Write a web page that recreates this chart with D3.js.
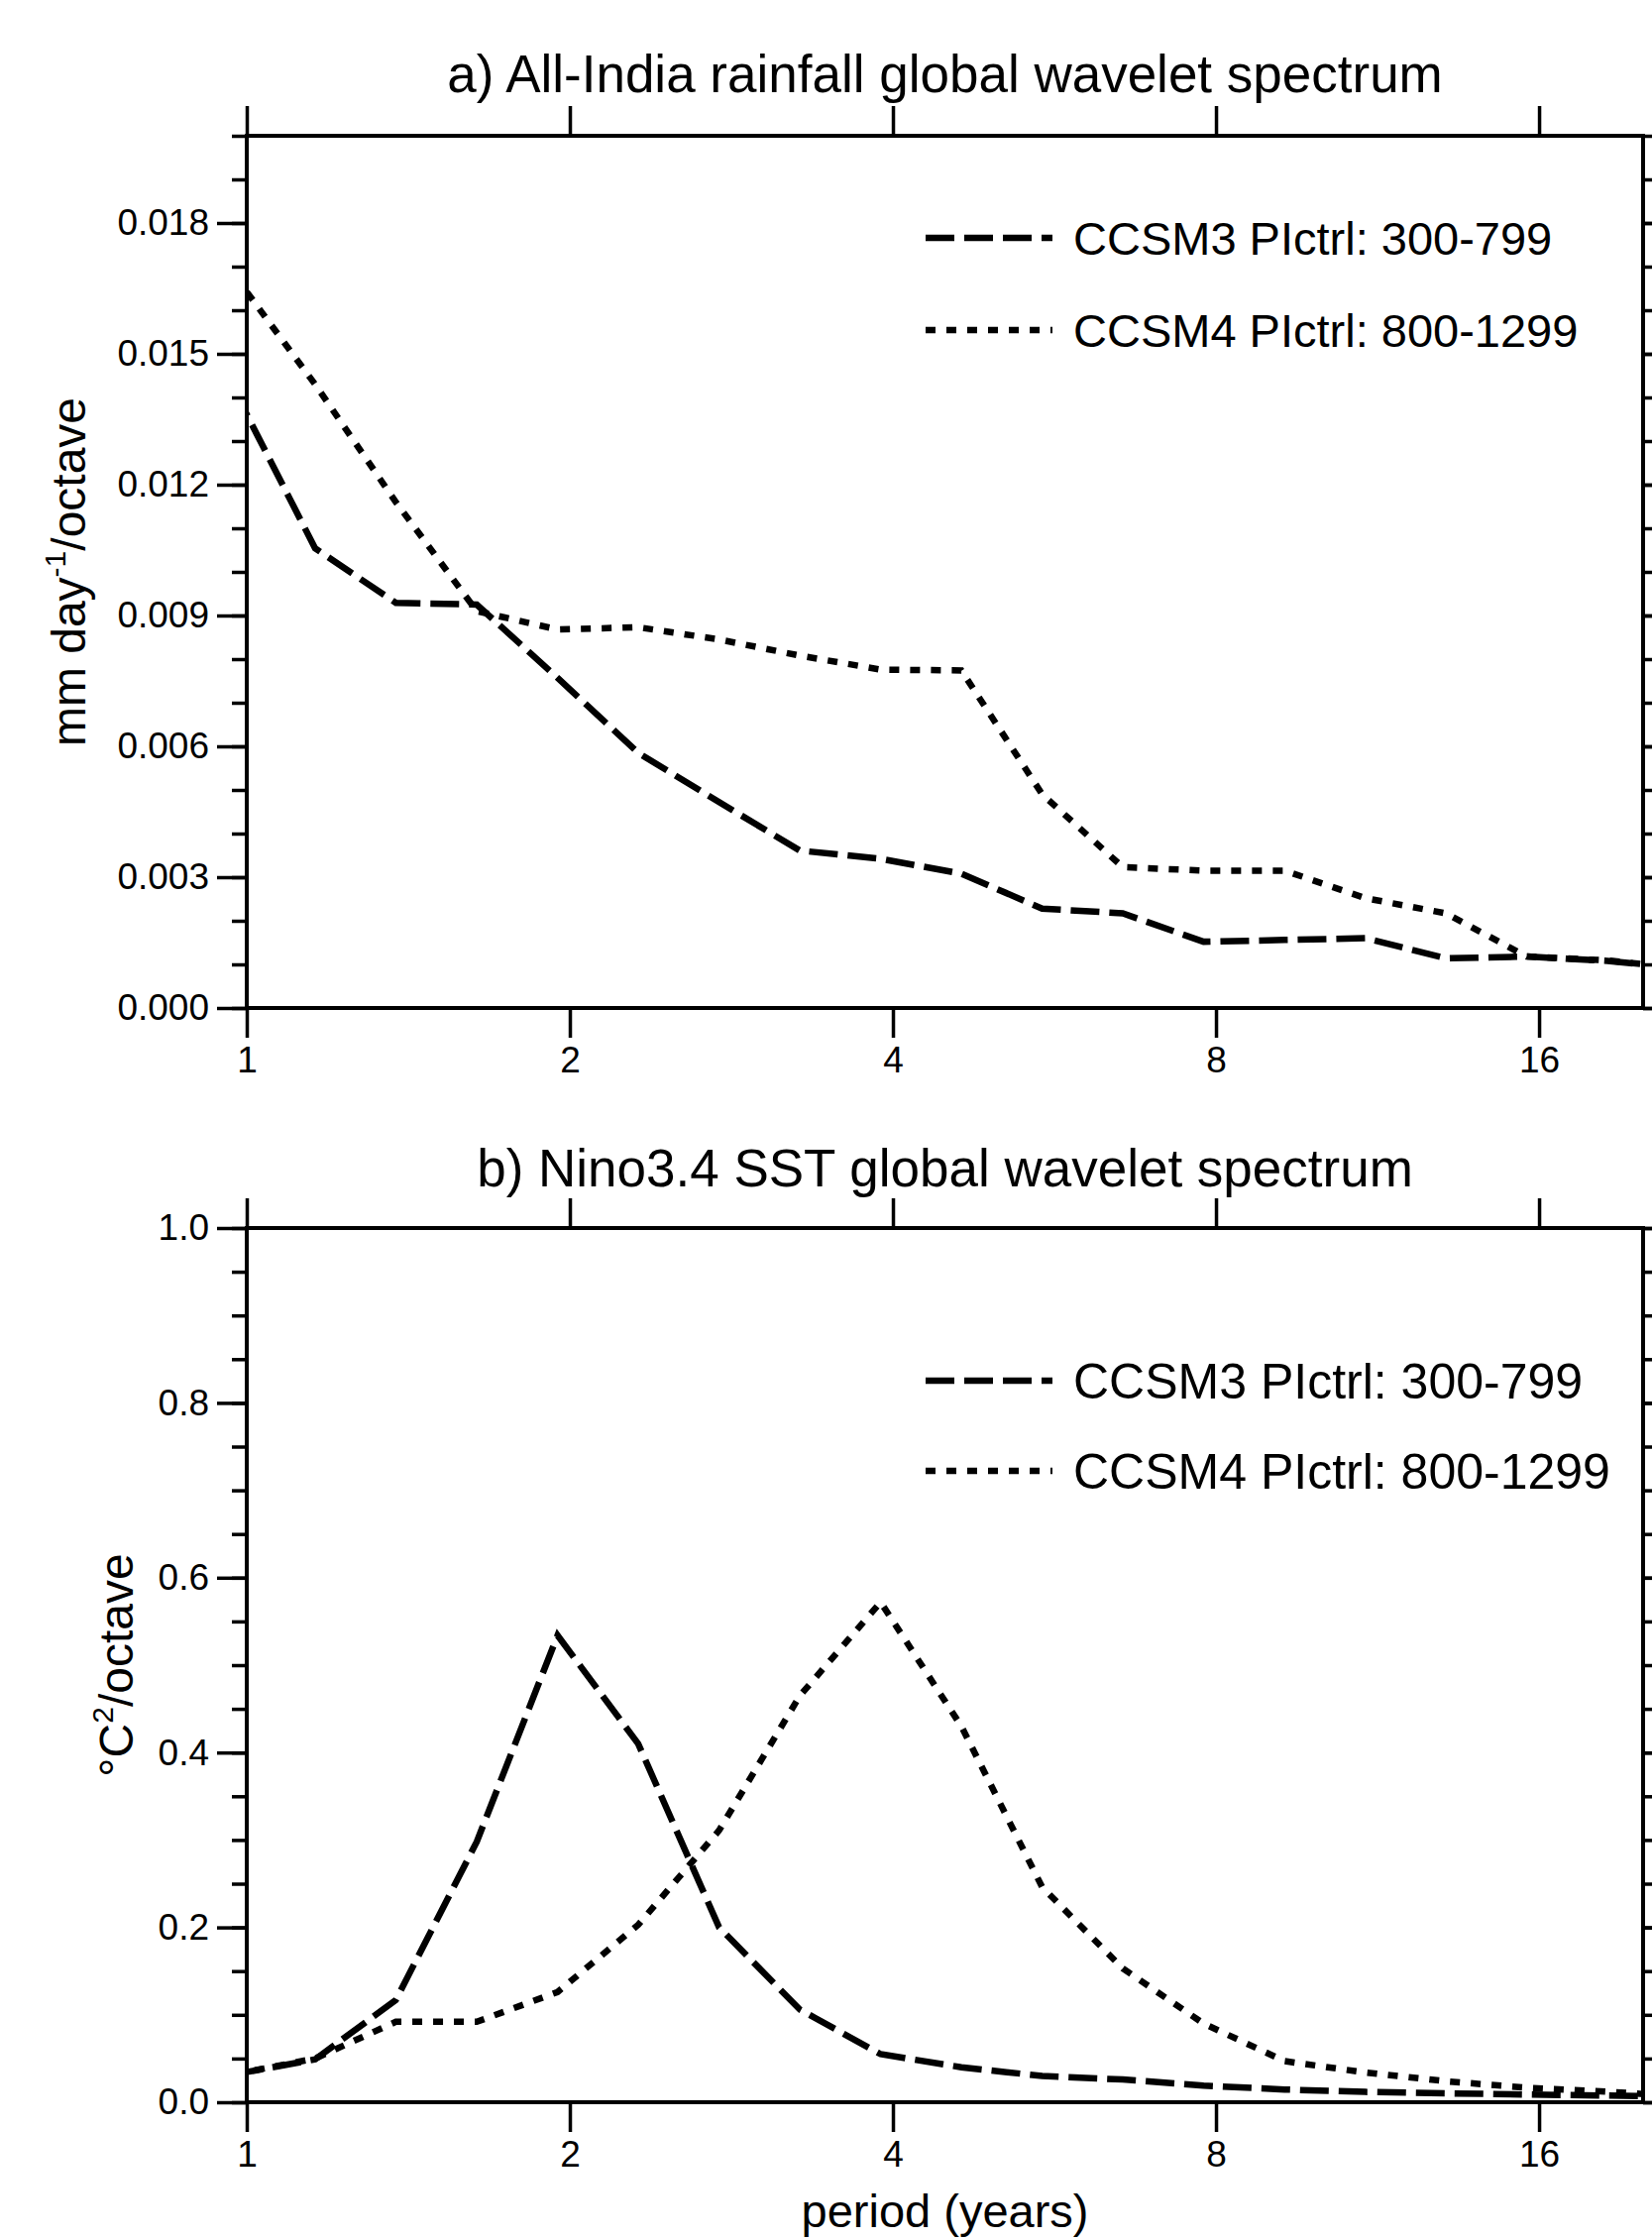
<!DOCTYPE html>
<html>
<head>
<meta charset="utf-8">
<script src="https://cdn.jsdelivr.net/npm/d3@7"></script>
<style>
  body { margin: 0; background: #fff; }
  svg { display: block; }
</style>
</head>
<body>
<div id="main"></div>
<script>
// wavelet periods (years), one point per scale
var periods = [0.974, 1.158, 1.377, 1.638, 1.948, 2.316, 2.755, 3.276, 3.896, 4.633,
               5.51, 6.55, 7.79, 9.27, 11.02, 13.1, 15.58, 18.53, 22.04];

// a) All-India rainfall
var rainCCSM3 = [0.01416, 0.01054, 0.00929, 0.00925, 0.00757, 0.00585, 0.00472, 0.00361, 0.00342, 0.00308,
                 0.00228, 0.00217, 0.00152, 0.00156, 0.00160, 0.00114, 0.00118, 0.00108, 0.00090];
var rainCCSM4 = [0.0168, 0.0143, 0.0116, 0.0091, 0.00868, 0.00873, 0.00845, 0.00808, 0.00776, 0.00774,
                 0.0049, 0.00323, 0.00315, 0.00315, 0.00252, 0.00217, 0.00118, 0.00109, 0.00089];

// b) Nino3.4 SST
var ninoCCSM3 = [0.032, 0.049, 0.117, 0.298, 0.534, 0.410, 0.200, 0.106, 0.055, 0.040,
                 0.030, 0.026, 0.019, 0.0145, 0.0118, 0.0102, 0.0088, 0.0076, 0.0064];
var ninoCCSM4 = [0.032, 0.050, 0.092, 0.092, 0.126, 0.203, 0.311, 0.465, 0.572, 0.430,
                 0.246, 0.153, 0.090, 0.047, 0.034, 0.024, 0.0166, 0.0121, 0.006];

var seriesNames = ["CCSM3 PIctrl: 300-799", "CCSM4 PIctrl: 800-1299"];
var xTicks = [1, 2, 4, 8, 16];
var rainMajor = [0, 0.003, 0.006, 0.009, 0.012, 0.015, 0.018];
var rainMinor = d3.range(0, 0.0201, 0.001);
var ninoMajor = [0, 0.2, 0.4, 0.6, 0.8, 1.0];
var ninoMinor = d3.range(0, 1.001, 0.05);

var width = 1667, height = 2260;
var left = 249, right = 1658;
var font = "'Liberation Sans', Arial, Helvetica, sans-serif";
var dashes = ["29,10", "10,11"];

var svg = d3.select("#main")
  .append("svg")
  .attr("width", width)
  .attr("height", height)
  .style("background-color", "white");

var x = d3.scaleLog().base(2).domain([1, 20]).range([left, right]);

function panel(opt) {
  var y = d3.scaleLinear().domain(opt.domain).range([opt.bottom, opt.top]);
  var g = svg.append("g");

  g.append("clipPath").attr("id", opt.id)
    .append("rect")
    .attr("x", left).attr("y", opt.top)
    .attr("width", right - left).attr("height", opt.bottom - opt.top);

  function style(sel) {
    sel.select(".domain").remove();
    sel.attr("font-size", 37).attr("font-family", font);
    sel.selectAll("line").attr("stroke-width", 3.5);
  }

  // x axes
  g.append("g").attr("transform", "translate(0," + opt.bottom + ")")
    .call(d3.axisBottom(x).tickValues(xTicks).tickSize(30).tickPadding(9).tickFormat(d3.format("d")))
    .call(style);
  g.append("g").attr("transform", "translate(0," + opt.top + ")")
    .call(d3.axisTop(x).tickValues(xTicks).tickSize(30).tickFormat(""))
    .call(style);

  // y axes, major and minor
  g.append("g").attr("transform", "translate(" + left + ",0)")
    .call(d3.axisLeft(y).tickValues(opt.major).tickSize(30).tickPadding(8).tickFormat(d3.format(opt.fmt)))
    .call(style);
  g.append("g").attr("transform", "translate(" + left + ",0)")
    .call(d3.axisLeft(y).tickValues(opt.minor).tickSize(15).tickFormat(""))
    .call(style);
  g.append("g").attr("transform", "translate(" + right + ",0)")
    .call(d3.axisRight(y).tickValues(opt.major).tickSize(30).tickFormat(""))
    .call(style);
  g.append("g").attr("transform", "translate(" + right + ",0)")
    .call(d3.axisRight(y).tickValues(opt.minor).tickSize(15).tickFormat(""))
    .call(style);

  g.append("rect")
    .attr("x", left).attr("y", opt.top)
    .attr("width", right - left).attr("height", opt.bottom - opt.top)
    .attr("fill", "none").attr("stroke", "black").attr("stroke-width", 4);

  var line = d3.line()
    .x(function(d) { return x(d[0]); })
    .y(function(d) { return y(d[1]); });

  opt.series.forEach(function(vals, i) {
    g.append("path")
      .datum(d3.zip(periods, vals))
      .attr("clip-path", "url(#" + opt.id + ")")
      .attr("d", line)
      .attr("fill", "none")
      .attr("stroke", "black")
      .attr("stroke-width", 6.5)
      .attr("stroke-dasharray", dashes[i]);
  });

  // legend
  seriesNames.forEach(function(name, i) {
    var ly = opt.legendY[i];
    g.append("line")
      .attr("x1", 934).attr("x2", 1062)
      .attr("y1", ly).attr("y2", ly)
      .attr("stroke", "black").attr("stroke-width", 6.5)
      .attr("stroke-dasharray", dashes[i]);
    g.append("text")
      .attr("x", 1083).attr("y", ly + opt.legendSize * 0.36)
      .attr("font-family", font).attr("font-size", opt.legendSize)
      .text(name);
  });

  g.append("text")
    .attr("x", (left + right) / 2).attr("y", opt.titleY)
    .attr("text-anchor", "middle")
    .attr("font-family", font).attr("font-size", 53)
    .text(opt.title);

  var yl = g.append("text")
    .attr("transform", "translate(" + opt.labelX + "," + (opt.top + opt.bottom) / 2 + ") rotate(-90)")
    .attr("text-anchor", "middle")
    .attr("font-family", font).attr("font-size", 48);
  opt.label(yl);
}

panel({
  id: "clipA", top: 137, bottom: 1017, domain: [0, 0.02],
  major: rainMajor, minor: rainMinor, fmt: ".3f",
  series: [rainCCSM3, rainCCSM4],
  legendY: [240, 333], legendSize: 47,
  title: "a) All-India rainfall global wavelet spectrum", titleY: 93,
  labelX: 86,
  label: function(t) {
    t.append("tspan").text("mm day");
    t.append("tspan").attr("font-size", 30).attr("dy", -20).text("-1");
    t.append("tspan").attr("dy", 20).text("/octave");
  }
});

panel({
  id: "clipB", top: 1239, bottom: 2121, domain: [0, 1],
  major: ninoMajor, minor: ninoMinor, fmt: ".1f",
  series: [ninoCCSM3, ninoCCSM4],
  legendY: [1393, 1484], legendSize: 50,
  title: "b) Nino3.4 SST global wavelet spectrum", titleY: 1197,
  labelX: 134,
  label: function(t) {
    t.append("tspan").text("\u00b0C");
    t.append("tspan").attr("font-size", 30).attr("dy", -20).text("2");
    t.append("tspan").attr("dy", 20).text("/octave");
  }
});

svg.append("text")
  .attr("x", (left + right) / 2).attr("y", 2247)
  .attr("text-anchor", "middle")
  .attr("font-family", font).attr("font-size", 47)
  .text("period (years)");
</script>
</body>
</html>
